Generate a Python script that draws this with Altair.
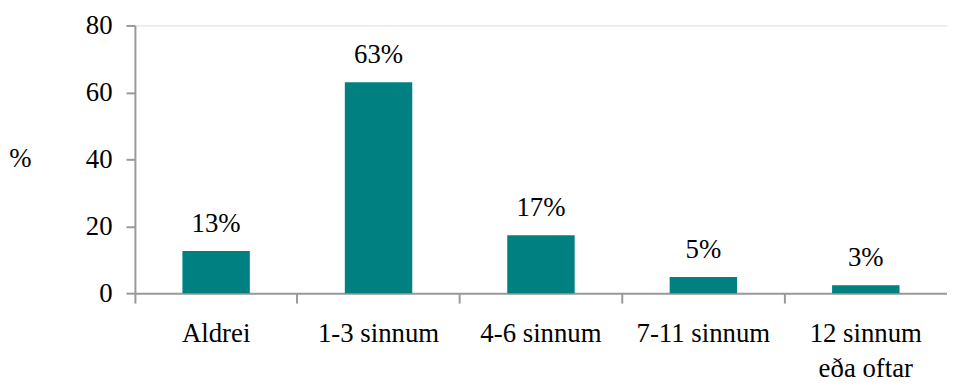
import altair as alt
import pandas as pd

categories = ["Aldrei", "1-3 sinnum", "4-6 sinnum", "7-11 sinnum", "12 sinnum\neða oftar"]
values = [12.6, 63.0, 17.3, 4.8, 2.4]
labels = ["13%", "63%", "17%", "5%", "3%"]

df = pd.DataFrame({"cat": categories, "val": values, "lab": labels})

FONT = "Liberation Serif, DejaVu Serif, Noto Serif, serif"
FS = 27

x = alt.X("cat:N", sort=None, title=None,
          scale=alt.Scale(paddingInner=0, paddingOuter=0),
          axis=alt.Axis(labelAngle=0, labelFont=FONT, labelFontSize=FS, labelColor="#000000",
                        labelPadding=18, labelLineHeight=35, labelExpr="split(datum.label, '\\n')",
                        tickSize=10, tickColor="#999999", tickWidth=2, bandPosition=0,
                        domainColor="#999999", domainWidth=2, grid=False, labelBaseline="top"))
y = alt.Y("val:Q", title="%",
          scale=alt.Scale(domain=[0, 80], nice=False),
          axis=alt.Axis(values=[0, 20, 40, 60, 80], labelFont=FONT, labelFontSize=FS, labelColor="#000000",
                        labelPadding=14, tickSize=9, tickColor="#999999", tickWidth=2,
                        domainColor="#999999", domainWidth=2, grid=False,
                        titleFont=FONT, titleFontSize=FS, titleFontWeight="normal", titleColor="#000000",
                        titleAngle=0, titleX=-116, titleY=134, titleAlign="center", titleBaseline="middle"))

bars = alt.Chart(df).mark_bar(size=68, color="#008080").encode(x=x, y=y)
text = alt.Chart(df).mark_text(dy=-19, font=FONT, fontSize=FS, color="#000000", baseline="alphabetic").encode(
    x=alt.X("cat:N", sort=None), y="val:Q", text="lab:N")

chart = (bars + text).properties(
    width=819, height=270,
    autosize=alt.AutoSizeParams(type="none"),
    padding={"left": 128, "top": 16, "right": 0, "bottom": 89},
).configure_view(stroke=None).configure(font=FONT)

chart.save("out.html", embed_options={"renderer": "svg", "actions": False})
